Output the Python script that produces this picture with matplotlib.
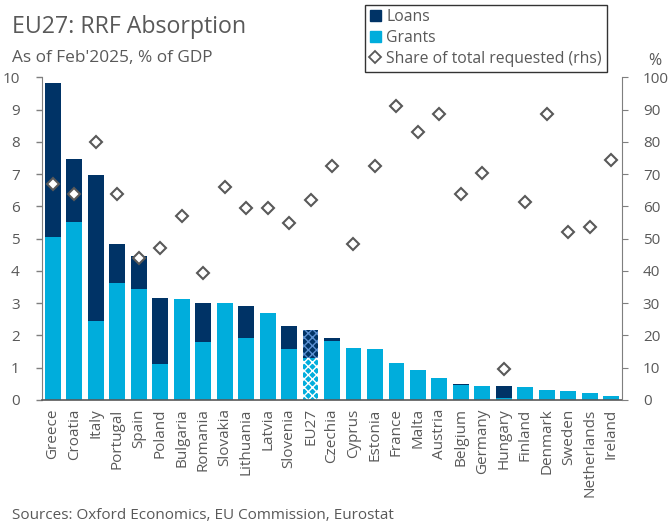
import matplotlib
matplotlib.use('Agg')
from matplotlib import pyplot as plt
from matplotlib.patches import Patch
from matplotlib.lines import Line2D
import numpy as np

countries = ['Greece', 'Croatia', 'Italy', 'Portugal', 'Spain', 'Poland', 'Bulgaria', 'Romania', 'Slovakia',
             'Lithuania', 'Latvia', 'Slovenia', 'EU27', 'Czechia', 'Cyprus', 'Estonia', 'France', 'Malta',
             'Austria', 'Belgium', 'Germany', 'Hungary', 'Finland', 'Denmark', 'Sweden', 'Netherlands', 'Ireland']
grants = [5.05, 5.51, 2.45, 3.62, 3.44, 1.12, 3.13, 1.80, 3.00,
          1.92, 2.70, 1.58, 1.30, 1.83, 1.61, 1.58, 1.15, 0.93,
          0.68, 0.47, 0.44, 0.06, 0.41, 0.31, 0.28, 0.22, 0.12]
loans = [4.79, 1.95, 4.52, 1.21, 1.02, 2.04, 0.0, 1.20, 0.0,
         0.99, 0.0, 0.71, 0.87, 0.09, 0.0, 0.0, 0.0, 0.0,
         0.0, 0.03, 0.0, 0.38, 0.0, 0.0, 0.0, 0.0, 0.0]
share_requested = [67, 64, 80, 64, 44, 47, 57, 39.5, 66,
                   59.5, 59.5, 55, 62, 72.5, 48.5, 72.5, 91, 83,
                   88.5, 64, 70.5, 9.5, 61.5, 88.5, 52, 53.5, 74.5]

navy = '#003366'
cyan = '#00ADDC'
grey = '#595959'

plt.rcParams['font.family'] = ['Open Sans', 'DejaVu Sans']
plt.rcParams['hatch.linewidth'] = 1.0

fig = plt.figure(figsize=(6.71, 5.30), dpi=100)
ax = fig.add_axes([0.0626, 0.2453, 0.8644, 0.6087])
x = np.arange(len(countries))

for i in x:
    if countries[i] == 'EU27':
        # EU27 average drawn with a checkered pattern
        ax.bar(i, grants[i], width=0.74, color=cyan, edgecolor='white', linewidth=0, hatch='xxxx')
        ax.bar(i, loans[i], bottom=grants[i], width=0.74, color=navy, edgecolor='#5a8fd0', linewidth=0,
               hatch='xxxx')
    else:
        ax.bar(i, grants[i], width=0.74, color=cyan, linewidth=0)
        ax.bar(i, loans[i], bottom=grants[i], width=0.74, color=navy, linewidth=0)

ax.set_xlim(-0.5, len(countries) - 0.5)
ax.set_ylim(0, 10)
ax.set_yticks(range(0, 11))
ax.set_xticks(x)
ax.set_xticklabels(countries, rotation=90)
ax.tick_params(axis='x', length=0, pad=6, labelsize=11, colors=grey)
ax.tick_params(axis='y', length=4, width=1, direction='out', labelsize=11, colors=grey, color='#7f7f7f', pad=12)
for s in ['top', 'right']:
    ax.spines[s].set_visible(False)
ax.spines['left'].set_color('#7f7f7f')
ax.spines['bottom'].set_color(grey)
ax.spines['bottom'].set_linewidth(1.2)

ax2 = ax.twinx()
ax2.plot(x, share_requested, linestyle='none', marker='D', markersize=6.5, markerfacecolor='white',
         markeredgecolor=grey, markeredgewidth=1.5)
ax2.set_ylim(0, 100)
ax2.set_yticks(range(0, 101, 10))
ax2.tick_params(axis='y', length=4, direction='out', labelsize=11, colors=grey, color='#7f7f7f', pad=11)
for s in ['top', 'left', 'bottom']:
    ax2.spines[s].set_visible(False)
ax2.spines['right'].set_color('#7f7f7f')

fig.text(0.018, 0.938, 'EU27: RRF Absorption', fontsize=16.7, color=grey)
fig.text(0.018, 0.883, "As of Feb'2025, % of GDP", fontsize=12.4, color=grey)
fig.text(0.976, 0.877, '%', fontsize=11.5, color=grey, ha='center')
fig.text(0.018, 0.02, 'Sources: Oxford Economics, EU Commission, Eurostat', fontsize=11, color=grey)

handles = [Patch(color=navy), Patch(color=cyan),
           Line2D([], [], linestyle='none', marker='D', markersize=6, markerfacecolor='white',
                  markeredgecolor=grey, markeredgewidth=1.3)]
leg = fig.legend(handles, ['Loans', 'Grants', 'Share of total requested (rhs)'], loc='upper left',
                 bbox_to_anchor=(0.544, 0.991), borderaxespad=0, fontsize=11.3, frameon=True, fancybox=False,
                 handlelength=0.7, handleheight=0.7, handletextpad=0.35, labelspacing=0.3,
                 borderpad=0.3, labelcolor=grey)
leg.get_frame().set_edgecolor('black')
leg.get_frame().set_linewidth(1.0)

fig.savefig('out.png', dpi=100)
